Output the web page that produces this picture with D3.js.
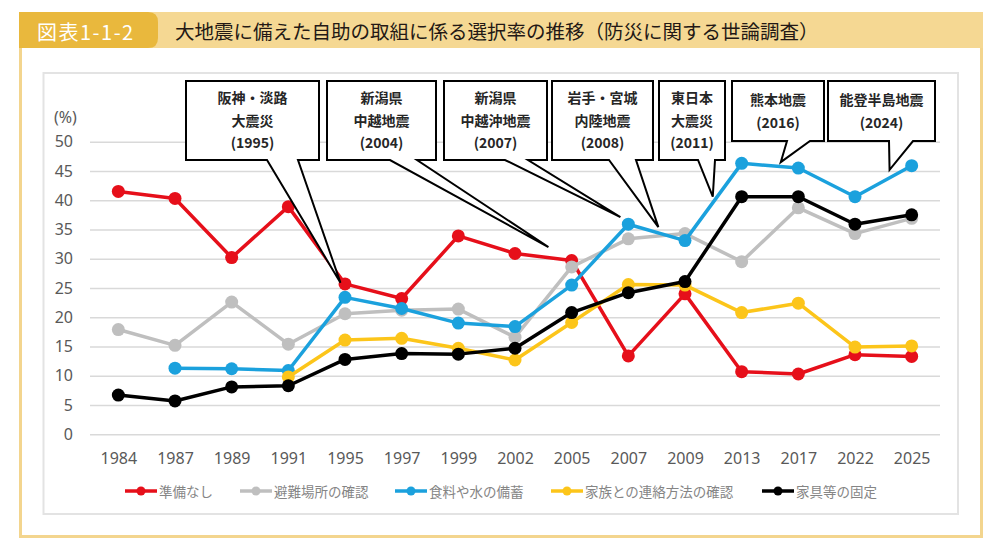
<!DOCTYPE html>
<html><head><meta charset="utf-8">
<script src="https://cdn.jsdelivr.net/npm/d3@7/dist/d3.min.js"></script>
<style>
html,body{margin:0;padding:0;background:#fff;}
svg{display:block;font-family:"Noto Sans CJK JP","Noto Sans",sans-serif;}
</style></head>
<body><svg id="c" width="996" height="546"></svg>
<script>
// ---- data ----
const years = ["1984","1987","1989","1991","1995","1997","1999","2002","2005","2007","2009","2013","2017","2022","2025"];
const yTicks = [0,5,10,15,20,25,30,35,40,45,50];
const seriesNames = ["準備なし","避難場所の確認","食料や水の備蓄","家族との連絡方法の確認","家具等の固定"];
const noPrep   = [41.5,40.3,30.2,38.9,25.7,23.2,33.9,30.9,29.7,13.4,24.0,10.7,10.3,13.6,13.3];
const shelter  = [17.9,15.2,22.6,15.4,20.6,21.2,21.4,16.6,28.6,33.4,34.3,29.5,38.7,34.3,36.9];
const stock    = [null,11.3,11.2,10.9,23.4,21.5,19.0,18.4,25.5,35.9,33.1,46.3,45.5,40.6,45.9];
const contact  = [null,null,null,9.8,16.1,16.4,14.7,12.7,19.1,25.6,25.5,20.8,22.4,14.9,15.1];
const furniture= [6.7,5.7,8.1,8.3,12.8,13.8,13.7,14.7,20.8,24.2,26.1,40.6,40.6,35.9,37.5];
const calloutLabels = [
  ["阪神・淡路","大震災","(1995)"],
  ["新潟県","中越地震","(2004)"],
  ["新潟県","中越沖地震","(2007)"],
  ["岩手・宮城","内陸地震","(2008)"],
  ["東日本","大震災","(2011)"],
  ["熊本地震","(2016)"],
  ["能登半島地震","(2024)"]
];
const titleLabel = "図表1-1-2";
const titleText = "大地震に備えた自助の取組に係る選択率の推移（防災に関する世論調査）";
const unitLabel = "(%)";

// ---- styles / layout ----
const colors = ["#e60f1a","#bfbfbf","#1ba1dd","#fcc51a","#000000"];
const allSeries = [noPrep,shelter,stock,contact,furniture];
const legendX = [125,240,395,551,762];
// callout layout: box [x0,y0,x1,y1], pointer base [xa,xb], tip as (fractional category index, value)
const calloutLayout = [
  {box:[186,81,319,160], base:[267,298], tip:[3.92,25.9]},
  {box:[327,81,436,160], base:[390,417], tip:[7.59,32.0]},
  {box:[444,81,547,160], base:[505,528], tip:[8.86,37.1]},
  {box:[552,81,653,160], base:[609,636], tip:[9.53,35.4]},
  {box:[659,81,725,160], base:[698,715], tip:[10.49,40.6]},
  {box:[732,81,824,141], base:[787,810], tip:[11.69,46.5]},
  {box:[828,81,935,141], base:[889,913], tip:[13.61,45.2]}
];

const svg = d3.select("#c");

// frame
svg.append("rect").attr("x",20.5).attr("y",13.5).attr("width",961).attr("height",523)
  .attr("fill","#fff").attr("stroke","#f3d58e").attr("stroke-width",3);
svg.append("rect").attr("x",19).attr("y",12).attr("width",964).attr("height",36).attr("fill","#f5d893");
svg.append("path").attr("d","M19,12 H148 Q158,12 158,22 V38 Q158,48 148,48 H19 Z").attr("fill","#e9b83d");
svg.append("text").attr("x",37).attr("y",31).attr("dominant-baseline","central")
  .attr("fill","#fff").attr("font-size",20).attr("font-weight",400).attr("letter-spacing",1.5).text(titleLabel);
svg.append("text").attr("x",175).attr("y",30).attr("dominant-baseline","central")
  .attr("fill","#231815").attr("font-size",19.5).attr("font-weight",400).text(titleText);

// inner box
svg.append("rect").attr("x",43.5).attr("y",73).attr("width",914.5).attr("height",441)
  .attr("fill","#fff").attr("stroke","#e3e3e3").attr("stroke-width",2);

// scales
const x = d3.scalePoint().domain(years).range([90,940]).padding(0.5);
const y = d3.scaleLinear().domain([0,50]).range([434.3,141.7]);
const xAt = i => x(years[0]) + i*x.step();

// grid + y axis
const yAxis = d3.axisLeft(y).tickValues(yTicks).tickSize(-850).tickPadding(17);
const gy = svg.append("g").attr("transform","translate(90,0)").call(yAxis);
gy.select(".domain").remove();
gy.selectAll(".tick line").attr("stroke","#d9d9d9").attr("stroke-width",1.5);
gy.selectAll(".tick text").attr("fill","#595959").attr("font-size",16)
  .attr("font-family","'Noto Sans','DejaVu Sans',sans-serif");

svg.append("text").attr("x",54).attr("y",117).attr("dominant-baseline","central")
  .attr("fill","#595959").attr("font-size",16).attr("font-family","'Noto Sans',sans-serif").text(unitLabel);

// x axis
const xAxis = d3.axisBottom(x).tickSize(0).tickPadding(0);
const gx = svg.append("g").attr("transform","translate(0,448)").call(xAxis);
gx.select(".domain").remove();
gx.selectAll(".tick text").attr("fill","#595959").attr("font-size",16)
  .attr("font-family","'Noto Sans','DejaVu Sans',sans-serif").attr("dy","0.35em").attr("y",10);

// series
const line = d3.line().defined(d=>d.v!=null).x(d=>x(d.k)).y(d=>y(d.v));
allSeries.forEach((vals,si)=>{
  const pts = years.map((k,i)=>({k, v:vals[i]}));
  const g = svg.append("g");
  g.append("path").datum(pts).attr("d",line).attr("fill","none")
    .attr("stroke",colors[si]).attr("stroke-width",3.5).attr("stroke-linejoin","round");
  g.selectAll("circle").data(pts.filter(d=>d.v!=null)).join("circle")
    .attr("cx",d=>x(d.k)).attr("cy",d=>y(d.v)).attr("r",6.5).attr("fill",colors[si]);
});

// callouts
calloutLabels.forEach((lines,ci)=>{
  const L = calloutLayout[ci];
  const [x0,y0,x1,y1] = L.box;
  const tx = xAt(L.tip[0]), ty = y(L.tip[1]);
  const p = d3.path();
  p.moveTo(x0,y0); p.lineTo(x1,y0); p.lineTo(x1,y1); p.lineTo(L.base[1],y1);
  p.lineTo(tx,ty); p.lineTo(L.base[0],y1); p.lineTo(x0,y1); p.closePath();
  svg.append("path").attr("d",p.toString()).attr("fill","#fff").attr("stroke","#000")
    .attr("stroke-width",2).attr("stroke-linejoin","miter");
  const cx = (x0+x1)/2;
  const starts = lines.length===3 ? 97 : 99;
  lines.forEach((t,li)=>{
    svg.append("text").attr("x",cx).attr("y",starts + li*22.5).attr("text-anchor","middle")
      .attr("dominant-baseline","central").attr("font-size",14).attr("font-weight",700)
      .attr("fill","#262626").text(t);
  });
});

// legend
const ly = 491;
seriesNames.forEach((name,si)=>{
  const lx = legendX[si];
  const g = svg.append("g");
  g.append("line").attr("x1",lx).attr("x2",lx+32).attr("y1",ly).attr("y2",ly)
    .attr("stroke",colors[si]).attr("stroke-width",3.5);
  g.append("circle").attr("cx",lx+16).attr("cy",ly).attr("r",4.5).attr("fill",colors[si]);
  g.append("text").attr("x",lx+34).attr("y",ly).attr("dominant-baseline","central")
    .attr("font-size",13.5).attr("fill","#858585").text(name);
});
</script></body></html>
